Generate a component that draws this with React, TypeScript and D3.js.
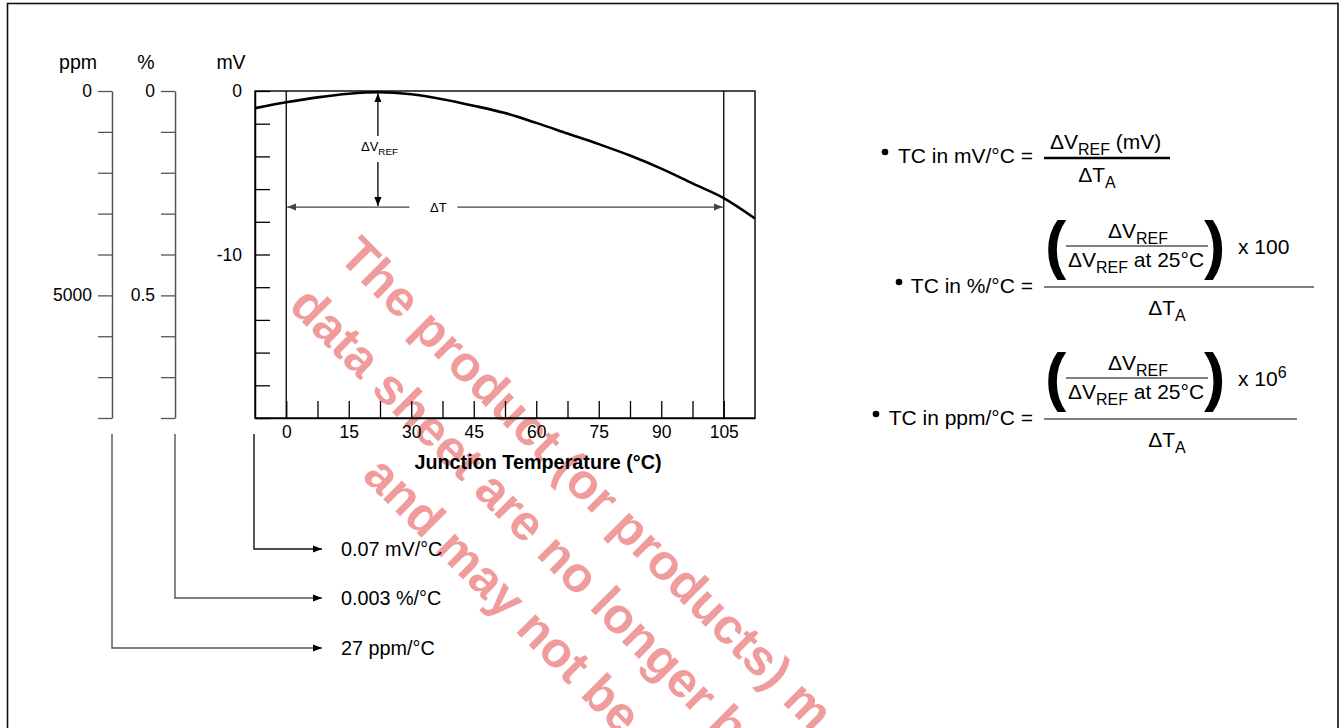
import { useEffect, useRef } from "react";
import * as d3 from "d3";

// reference voltage drift vs junction temperature
const tempC = [-7.5, 0, 7.5, 15, 22, 30, 37.5, 45, 52.5, 60, 67.5, 75, 82.5, 90, 97.5, 105, 112.5];
const vrefShiftMv = [-1.05, -0.69, -0.39, -0.17, -0.08, -0.2, -0.5, -0.9, -1.35, -1.95, -2.6, -3.25, -3.95, -4.75, -5.65, -6.55, -7.8];

const tempDomain = [-7.5, 112.5];
const tempTicks = [0, 7.5, 15, 22.5, 30, 37.5, 45, 52.5, 60, 67.5, 75, 82.5, 90, 97.5, 105];
const tempLabels = [0, 15, 30, 45, 60, 75, 90, 105];

const mvDomain = [-20, 0];
const mvTicks = [0, -2, -4, -6, -8, -10, -12, -14, -16, -18, -20];
const mvLabels = [0, -10];

const pctDomain = [0, 0.8];
const pctTicks = [0, 0.1, 0.2, 0.3, 0.4, 0.5, 0.6, 0.7, 0.8];
const pctLabels = [0, 0.5];

const ppmDomain = [0, 8000];
const ppmTicks = [0, 1000, 2000, 3000, 4000, 5000, 6000, 7000, 8000];
const ppmLabels = [0, 5000];

// annotation: ΔT span and ΔVREF drop
const deltaTSpan = [0, 105];
const deltaTLevelMv = -7.1;
const deltaVAtTemp = 22;
const deltaTLabelTemp = 37;

const resultLabels = ["0.07 mV/°C", "0.003 %/°C", "27 ppm/°C"];

const W = 1343;
const H = 728;
const FONT = "'Liberation Sans', Arial, Helvetica, sans-serif";

type Part = { t: string; sub?: boolean; sup?: boolean };

function rich(
  g: d3.Selection<SVGGElement, unknown, null, undefined>,
  x: number,
  y: number,
  parts: Part[],
  size: number,
  anchor = "start"
) {
  const t = g.append("text").attr("x", x).attr("y", y)
    .attr("font-size", size).attr("text-anchor", anchor)
    .attr("font-family", FONT).attr("fill", "#000");
  let shift = 0;
  parts.forEach((p) => {
    const target = p.sub ? size * 0.28 : p.sup ? -size * 0.4 : 0;
    t.append("tspan")
      .attr("dy", target - shift)
      .attr("font-size", p.sub || p.sup ? size * 0.76 : size)
      .text(p.t);
    shift = target;
  });
  return t;
}

export default function App() {
  const ref = useRef<SVGSVGElement>(null);

  useEffect(() => {
    if (!ref.current) return;
    const svg = d3.select(ref.current);
    svg.selectAll("*").remove();

    const defs = svg.append("defs");
    [["arrowK", "#000"], ["arrowG", "#444"]].forEach(([id, c]) => {
      defs.append("marker").attr("id", id)
        .attr("viewBox", "0 0 10 10").attr("refX", 10).attr("refY", 5)
        .attr("markerWidth", 9).attr("markerHeight", 9)
        .attr("markerUnits", "userSpaceOnUse")
        .attr("orient", "auto-start-reverse")
        .append("path").attr("d", "M0,1 L10,5 L0,9 Z").attr("fill", c);
    });

    const root = svg.append("g") as unknown as d3.Selection<SVGGElement, unknown, null, undefined>;

    root.append("rect").attr("x", 0).attr("y", 0).attr("width", W).attr("height", H).attr("fill", "#fff");

    // watermark behind everything
    const wm = root.append("g")
      .attr("transform", "translate(337,258) rotate(45)")
      .attr("font-family", FONT).attr("font-weight", "bold")
      .attr("font-size", 50).attr("fill", "#f09c9c");
    wm.append("text").attr("x", 0).attr("y", 0).text("The product (or products) m");
    wm.append("text").attr("x", 0).attr("y", 70).text("data sheet are no longer b");
    wm.append("text").attr("x", 172).attr("y", 138).text("and may not be");

    // page frame
    root.append("rect").attr("x", 7.5).attr("y", 3.5).attr("width", 1330.5).attr("height", 900)
      .attr("fill", "none").attr("stroke", "#111").attr("stroke-width", 1.6);

    const left = 255, right = 755, top = 91, bottom = 418;
    const x = d3.scaleLinear().domain(tempDomain).range([left, right]);
    const y = d3.scaleLinear().domain(mvDomain).range([bottom, top]);
    const pct = d3.scaleLinear().domain(pctDomain).range([top, bottom]);
    const ppm = d3.scaleLinear().domain(ppmDomain).range([top, bottom]);

    const styleAxis = (sel: any, color: string, size: number) => {
      sel.select(".domain").attr("stroke", color).attr("stroke-width", 1.5);
      sel.selectAll(".tick line").attr("stroke", color).attr("stroke-width", 1.3);
      sel.selectAll("text").attr("font-family", FONT).attr("font-size", size).attr("fill", "#000");
    };

    // ppm axis
    const gPpm = root.append("g").attr("transform", "translate(112,0)")
      .call(d3.axisLeft(ppm).tickValues(ppmTicks).tickSize(14).tickSizeOuter(0).tickPadding(6)
        .tickFormat((d) => (ppmLabels.includes(+d) ? String(d) : "")));
    styleAxis(gPpm, "#555", 17.5);

    // % axis
    const gPct = root.append("g").attr("transform", "translate(175,0)")
      .call(d3.axisLeft(pct).tickValues(pctTicks).tickSize(14).tickSizeOuter(0).tickPadding(6)
        .tickFormat((d) => (pctLabels.includes(+d) ? String(d) : "")));
    styleAxis(gPct, "#555", 17.5);

    // mV axis, ticks point into the plot
    const gMv = root.append("g").attr("transform", `translate(${left},0)`)
      .call(d3.axisLeft(y).tickValues(mvTicks).tickSize(-15).tickSizeOuter(0).tickPadding(13)
        .tickFormat((d) => (mvLabels.includes(+d) ? String(d) : "")));
    styleAxis(gMv, "#000", 17.5);

    // temperature axis, ticks point up
    const gT = root.append("g").attr("transform", `translate(0,${bottom})`)
      .call(d3.axisBottom(x).tickValues(tempTicks).tickSize(-17).tickSizeOuter(0).tickPadding(8)
        .tickFormat((d) => (tempLabels.includes(+d) ? String(d) : "")));
    styleAxis(gT, "#000", 17.5);

    // unit titles
    [["ppm", 78], ["%", 146], ["mV", 231]].forEach(([t, cx]) => {
      root.append("text").attr("x", cx).attr("y", 69).attr("text-anchor", "middle")
        .attr("font-family", FONT).attr("font-size", 19.5).text(t as string);
    });

    // plot frame
    root.append("rect").attr("x", left).attr("y", top).attr("width", right - left).attr("height", bottom - top)
      .attr("fill", "none").attr("stroke", "#000").attr("stroke-width", 1.4);

    // full-height lines at ΔT bounds
    deltaTSpan.forEach((t) => {
      root.append("line").attr("x1", x(t)).attr("x2", x(t)).attr("y1", top).attr("y2", bottom)
        .attr("stroke", "#000").attr("stroke-width", 1.3);
    });

    root.append("text").attr("x", 538).attr("y", 469).attr("text-anchor", "middle")
      .attr("font-family", FONT).attr("font-weight", "bold").attr("font-size", 19.8)
      .text("Junction Temperature (°C)");

    // curve
    const pts = tempC.map((t, i) => [t, vrefShiftMv[i]] as [number, number]);
    root.append("path").datum(pts)
      .attr("d", d3.line<[number, number]>().x((d) => x(d[0])).y((d) => y(d[1])).curve(d3.curveMonotoneX))
      .attr("fill", "none").attr("stroke", "#000").attr("stroke-width", 2.6);

    // ΔT arrow
    const yT = y(deltaTLevelMv);
    const xl = x(deltaTLabelTemp);
    root.append("line").attr("x1", xl - 31).attr("x2", x(deltaTSpan[0]) + 1).attr("y1", yT).attr("y2", yT)
      .attr("stroke", "#444").attr("stroke-width", 1.3).attr("marker-end", "url(#arrowG)");
    root.append("line").attr("x1", xl + 17).attr("x2", x(deltaTSpan[1]) - 1).attr("y1", yT).attr("y2", yT)
      .attr("stroke", "#444").attr("stroke-width", 1.3).attr("marker-end", "url(#arrowG)");
    rich(root, xl - 2, yT + 5, [{ t: "ΔT" }], 13, "middle");

    // ΔVREF arrow
    const xv = x(deltaVAtTemp);
    const yPeak = y(d3.max(vrefShiftMv) as number);
    root.append("line").attr("x1", xv).attr("x2", xv).attr("y1", 136).attr("y2", yPeak + 1)
      .attr("stroke", "#000").attr("stroke-width", 1.3).attr("marker-end", "url(#arrowK)");
    root.append("line").attr("x1", xv).attr("x2", xv).attr("y1", 162).attr("y2", yT - 1)
      .attr("stroke", "#000").attr("stroke-width", 1.3).attr("marker-end", "url(#arrowK)");
    rich(root, 361, 151, [{ t: "ΔV" }, { t: "REF", sub: true }], 13);

    // result connectors
    const axisXs = [left - 1, 175, 112];
    const resultYs = [549, 598, 648];
    resultLabels.forEach((lab, i) => {
      const ax = axisXs[i];
      const ry = resultYs[i];
      root.append("path").attr("d", `M${ax},434 V${ry} H322`)
        .attr("fill", "none").attr("stroke", i === 0 ? "#111" : "#555").attr("stroke-width", 1.4)
        .attr("marker-end", "url(#arrowK)");
      root.append("text").attr("x", 341).attr("y", ry + 7).attr("font-family", FONT)
        .attr("font-size", 19.8).text(lab);
    });

    // formulas
    const fs = 21;
    const bullet = (cx: number, cy: number) =>
      root.append("circle").attr("cx", cx).attr("cy", cy).attr("r", 3.3).attr("fill", "#000");

    bullet(885, 152);
    root.append("text").attr("x", 1033).attr("y", 163).attr("text-anchor", "end")
      .attr("font-family", FONT).attr("font-size", fs).text("TC in mV/°C =");
    rich(root, 1050, 149, [{ t: "ΔV" }, { t: "REF", sub: true }, { t: " (mV)" }], fs);
    root.append("line").attr("x1", 1044).attr("x2", 1170).attr("y1", 158).attr("y2", 158)
      .attr("stroke", "#000").attr("stroke-width", 2.6);
    rich(root, 1097, 182, [{ t: "ΔT" }, { t: "A", sub: true }], fs, "middle");

    const ratioFormula = (dy: number, bx: number, label: string, mult: Part[], barEnd: number) => {
      bullet(bx, 282 + dy);
      root.append("text").attr("x", 1033).attr("y", 293 + dy).attr("text-anchor", "end")
        .attr("font-family", FONT).attr("font-size", fs).text(label);
      root.append("text").attr("x", 1045).attr("y", 267 + dy).attr("font-family", FONT)
        .attr("font-weight", "bold").attr("font-size", 64).text("(");
      root.append("text").attr("x", 1204).attr("y", 267 + dy).attr("font-family", FONT)
        .attr("font-weight", "bold").attr("font-size", 64).text(")");
      rich(root, 1138, 238 + dy, [{ t: "ΔV" }, { t: "REF", sub: true }], fs, "middle");
      root.append("line").attr("x1", 1066).attr("x2", 1208).attr("y1", 246 + dy).attr("y2", 246 + dy)
        .attr("stroke", "#000").attr("stroke-width", 1.1);
      rich(root, 1068, 267 + dy, [{ t: "ΔV" }, { t: "REF", sub: true }, { t: " at 25°C" }], fs);
      rich(root, 1238, 254 + dy, mult, fs);
      root.append("line").attr("x1", 1044).attr("x2", barEnd).attr("y1", 287 + dy).attr("y2", 287 + dy)
        .attr("stroke", "#000").attr("stroke-width", 1.1);
      rich(root, 1167, 315 + dy, [{ t: "ΔT" }, { t: "A", sub: true }], fs, "middle");
    };
    ratioFormula(0, 899, "TC in %/°C =", [{ t: "x 100" }], 1314);
    ratioFormula(132, 876, "TC in ppm/°C =", [{ t: "x 10" }, { t: "6", sup: true }], 1297);
  }, []);

  return (
    <svg ref={ref} width={W} height={H}
      style={{ position: "absolute", left: 0, top: 0, display: "block" }} />
  );
}
